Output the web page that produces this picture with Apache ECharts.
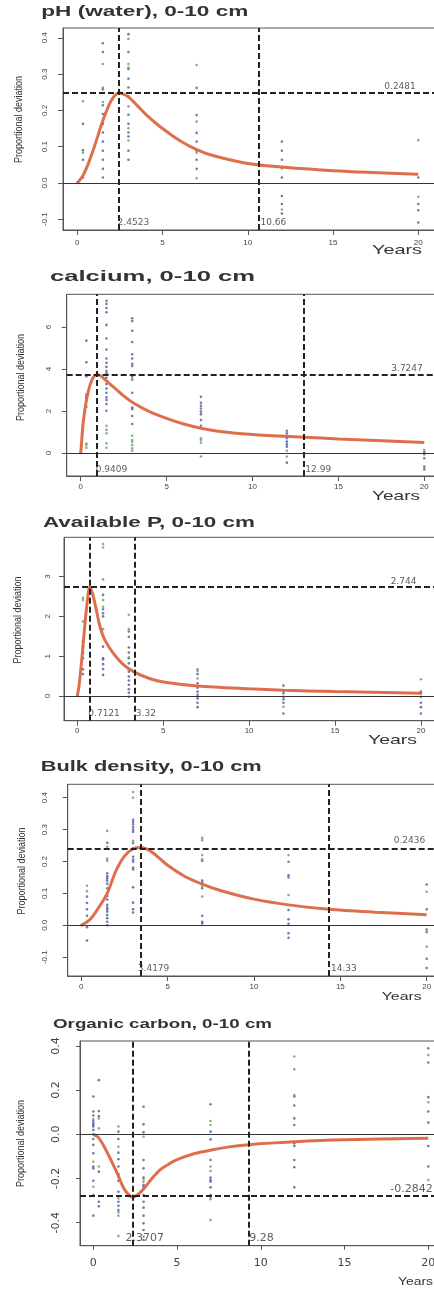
<!DOCTYPE html>
<html>
<head>
<meta charset="utf-8">
<script src="https://cdn.jsdelivr.net/npm/echarts@6.0.0/dist/echarts.min.js"></script>
<style>
html,body{margin:0;padding:0;background:#ffffff;}
#chart{width:434px;height:1290px;}
</style>
</head>
<body>
<div id="chart"></div>
<script>
// ================= DATA =================
const titles = ['pH (water), 0-10 cm', 'calcium, 0-10 cm', 'Available P, 0-10 cm', 'Bulk density, 0-10 cm', 'Organic carbon, 0-10 cm'];
const yAxisTitle = 'Proportional deviation';
const xAxisTitle = 'Years';
const xTickValues = [0, 5, 10, 15, 20];

// pH (water)
const phYTicks = [-0.1, 0, 0.1, 0.2, 0.3, 0.4];
const phBlue = [[0,0],[0.33,0.163],[0.33,0.090],[0.33,0.064],[0.33,0.015],
  [1.5,0.385],[1.5,0.361],[1.5,0.258],[1.5,0.214],[1.5,0.19],[1.5,0.163],[1.5,0.139],[1.5,0.114],[1.5,0.089],[1.5,0.064],[1.5,0.039],[1.5,0.015],
  [3,0.41],[3,0.361],[3,0.314],[3,0.287],[3,0.263],[3,0.239],[3,0.188],[3,0.163],[3,0.139],[3,0.128],[3,0.089],[3,0.064],
  [7,0.262],[7,0.187],[7,0.138],[7,0.114],[7,0.089],[7,0.064],[7,0.039],
  [12,0.114],[12,0.089],[12,0.064],[12,0.015],[12,-0.036],[12,-0.058],[12,-0.084],
  [20,0.015],[20,-0.058],[20,-0.075],[20,-0.109]];
const phGreen = [[0.33,0.225],[0.33,0.083],[1.5,0.328],[1.5,0.263],[1.5,0.223],[3,0.397],[3,0.328],[3,0.318],[3,0.211],[3,0.151],[3,0.117],
  [7,0.325],[7,0.169],[7,0.083],[7,0.013],[12,0.04],[12,-0.073],[20,0.118],[20,-0.038]];
const phCurve = [[0,0],[0.3,0.018],[0.6,0.048],[1,0.1],[1.5,0.172],[2,0.228],[2.4523,0.2481],[3,0.237],[3.5,0.214],[4,0.19],[5,0.15],[6,0.117],[7,0.092],[8,0.075],[10,0.054],[12,0.044],[15,0.034],[20,0.024]];
const phVLines = [2.4523, 10.66];
const phHLine = 0.2481;

// calcium
const caYTicks = [0, 2, 4, 6];
const caBlue = [[0,0],[0.33,5.35],[0.33,4.32],[0.33,3.65],[0.33,2.78],[0.33,2.68],[0.33,2.6],[0.33,2.2],
  [1.5,7.25],[1.5,7.1],[1.5,6.9],[1.5,6.7],[1.5,6.1],[1.5,5.45],[1.5,4.93],[1.5,4.5],[1.5,4.3],[1.5,4.1],[1.5,3.9],[1.5,3.8],[1.5,3.58],[1.5,3.28],[1.5,3.07],[1.5,2.87],[1.5,2.65],[1.5,2.52],[1.5,2.33],[1.5,2.01],
  [3,6.42],[3,6.28],[3,5.82],[3,5.28],[3,4.7],[3,4.5],[3,4.25],[3,4.14],[3,3.63],[3,3.5],[3,2.87],[3,2.17],[3,2.09],[3,1.76],[3,1.38],
  [7,2.68],[7,2.39],[7,2.25],[7,2.12],[7,1.97],[7,1.84],[7,1.57],[7,1.3],
  [12,1.06],[12,0.94],[12,0.82],[12,0.7],[12,0.54],[12,0.41],[12,0.3],[12,-0.46],
  [20,0.03],[20,-0.06],[20,-0.25],[20,-0.65],[20,-0.78]];
const caGreen = [[0.33,0.45],[0.33,0.38],[0.33,0.25],[1.5,1.3],[1.5,1.1],[1.5,0.94],[1.5,0.46],[1.5,0.25],
  [3,0.82],[3,0.62],[3,0.54],[3,0.38],[3,0.22],[3,0.11],[7,0.7],[7,0.62],[7,0.49],[7,-0.17],[12,0.11],[12,-0.17],[20,0.14]];
const caCurve = [[0,0],[0.05,0.5],[0.12,1.25],[0.25,2.1],[0.38,2.7],[0.54,3.23],[0.73,3.6],[0.9409,3.7247],[1.2,3.65],[1.5,3.43],[2,3.08],[2.5,2.72],[3,2.42],[4,1.97],[5,1.65],[6,1.38],[7,1.18],[8,1.04],[10,0.88],[12.99,0.75],[15,0.67],[20,0.5]];
const caVLines = [0.9409, 12.99];
const caHLine = 3.7247;

// Available P
const pYTicks = [0, 1, 2, 3];
const pBlue = [[0,0],[0.33,1.37],[0.33,1.24],[0.33,1.08],[0.33,0.95],[0.33,0.67],[0.33,0.55],
  [1.5,2.54],[1.5,2.18],[1.5,2.08],[1.5,2.0],[1.5,1.24],[1.5,0.95],[1.5,0.92],[1.5,0.8],[1.5,0.68],[1.5,0.53],
  [3,1.62],[3,1.49],[3,1.22],[3,1.09],[3,0.95],[3,0.82],[3,0.61],[3,0.49],[3,0.39],[3,0.28],[3,0.17],[3,0.08],[3,-0.02],
  [7,0.55],[7,0.32],[7,0.21],[7,0.11],[7,0.03],[7,-0.06],[7,-0.17],[7,-0.28],
  [12,0.26],[12,0.13],[12,0.07],[12,-0.02],[12,-0.08],[12,-0.17],[12,-0.44],
  [20,0.11],[20,0.07],[20,-0.02],[20,-0.17],[20,-0.28],[20,-0.44]];
const pGreen = [[0.33,2.47],[0.33,2.41],[0.33,1.87],[1.5,3.82],[1.5,3.73],[1.5,2.93],[1.5,2.41],[1.5,2.24],[1.5,1.68],
  [3,2.04],[3,1.68],[3,0.97],[3,0.65],[7,0.67],[7,0.63],[7,0.44],[12,-0.27],[20,0.42]];
const pCurve = [[0,0],[0.1,0.25],[0.2,0.65],[0.3,1.1],[0.4,1.6],[0.5,2.05],[0.6,2.45],[0.7121,2.744],[0.8,2.68],[0.93,2.5],[1.09,2.2],[1.32,1.74],[1.6,1.41],[2.1,1.07],[2.7,0.78],[3.32,0.6],[4.2,0.44],[5,0.35],[7,0.25],[10,0.18],[12,0.145],[15,0.11],[20,0.07]];
const pVLines = [0.7121, 3.32];
const pHLine = 2.744;

// Bulk density
const bdYTicks = [-0.1, 0, 0.1, 0.2, 0.3, 0.4];
const bdBlue = [[0,0],[0.33,0.09],[0.33,0.07],[0.33,0.05],[0.33,0.03],[0.33,0.01],[0.33,-0.006],[0.33,-0.048],
  [1.5,0.259],[1.5,0.163],[1.5,0.154],[1.5,0.147],[1.5,0.14],[1.5,0.13],[1.5,0.116],[1.5,0.092],[1.5,0.081],[1.5,0.064],[1.5,0.056],[1.5,0.05],[1.5,0.043],[1.5,0.032],[1.5,0.022],[1.5,0.011],[1.5,0.0],
  [3,0.331],[3,0.324],[3,0.317],[3,0.308],[3,0.3],[3,0.293],[3,0.258],[3,0.241],[3,0.215],[3,0.206],[3,0.199],[3,0.181],[3,0.175],[3,0.119],[3,0.071],[3,0.05],[3,0.04],
  [7,0.202],[7,0.14],[7,0.133],[7,0.116],[7,0.03],[7,0.011],[7,0.006],
  [12,0.199],[12,0.157],[12,0.15],[12,0.048],[12,0.019],[12,0.005],[12,-0.025],[12,-0.039],
  [20,0.128],[20,0.05],[20,-0.013],[20,-0.021],[20,-0.105],[20,-0.134]];
const bdGreen = [[0.33,0.124],[0.33,0.107],[1.5,0.296],[1.5,0.246],[1.5,0.209],[1.5,0.202],[3,0.418],[3,0.4],[3,0.265],
  [7,0.274],[7,0.267],[7,0.22],[7,0.207],[7,0.123],[7,0.09],[12,0.22],[12,0.095],[20,0.105],[20,-0.067]];
const bdCurve = [[0,0],[0.5,0.018],[1,0.055],[1.5,0.1],[2,0.17],[2.5,0.217],[3,0.24],[3.4179,0.2436],[4,0.233],[5,0.188],[6,0.153],[7,0.129],[8,0.11],[10,0.082],[12,0.064],[14.33,0.05],[17,0.041],[20,0.033]];
const bdVLines = [3.4179, 14.33];
const bdHLine = 0.2436;

// Organic carbon
const ocYTicks = [-0.4, -0.2, 0, 0.2, 0.4];
const ocBlue = [[0,0.171],[0,0.103],[0,0.085],[0,0.06],[0,0.05],[0,0.042],[0,0.035],[0,0.02],[0,0],[0,-0.021],[0,-0.048],[0,-0.086],[0,-0.146],[0,-0.154],[0,-0.21],[0,-0.275],[0,-0.368],
  [0.33,0.245],[0.33,0.105],[0.33,0.083],[0.33,-0.169],[0.33,-0.305],[0.33,-0.326],
  [1.5,0.012],[1.5,-0.021],[1.5,-0.083],[1.5,-0.113],[1.5,-0.146],[1.5,-0.18],[1.5,-0.21],[1.5,-0.26],[1.5,-0.305],[1.5,-0.323],[1.5,-0.343],
  [3,0.125],[3,0.045],[3,0.009],[3,-0.116],[3,-0.154],[3,-0.196],[3,-0.229],[3,-0.237],[3,-0.245],[3,-0.275],[3,-0.305],[3,-0.332],[3,-0.368],[3,-0.403],[3,-0.433],[3,-0.478],
  [7,0.136],[7,0.012],[7,-0.023],[7,-0.116],[7,-0.196],[7,-0.207],[7,-0.214],[7,-0.24],[7,-0.275],
  [12,0.171],[12,0.13],[12,0.072],[12,0.042],[12,-0.041],[12,-0.053],[12,-0.116],[12,-0.149],[12,-0.24],
  [20,0.389],[20,0.325],[20,0.168],[20,0.103],[20,0.053],[20,-0.053],[20,-0.146]];
const ocGreen = [[0,0.069],[0,-0.124],[0,-0.237],[0.33,0.072],[0.33,0.027],[0.33,-0.146],[1.5,0.035],[1.5,-0.056],[1.5,-0.29],[1.5,-0.353],[1.5,-0.368],[1.5,-0.46],
  [3,-0.011],[3,-0.202],[3,-0.214],[3,-0.463],[7,0.06],[7,0.042],[7,-0.146],[7,-0.166],[7,-0.287],[7,-0.294],[7,-0.388],
  [12,0.352],[12,0.294],[12,0.178],[20,0.359],[20,0.145],[20,-0.207]];
const ocCurve = [[0,0],[0.3,-0.014],[0.7,-0.063],[1.1,-0.124],[1.47,-0.184],[1.77,-0.237],[2.07,-0.27],[2.3707,-0.2842],[2.67,-0.272],[3,-0.248],[3.5,-0.2],[4,-0.16],[4.5,-0.135],[5,-0.115],[6,-0.088],[7,-0.072],[8,-0.058],[9.28,-0.047],[12,-0.034],[15,-0.025],[20,-0.018]];
const ocVLines = [2.3707, 9.28];
const ocHLine = -0.2842;

// ================= LAYOUT / STYLE =================
const panels = [
  {blue: phBlue, green: phGreen, curve: phCurve, yTicks: phYTicks, vl: phVLines, hl: phHLine},
  {blue: caBlue, green: caGreen, curve: caCurve, yTicks: caYTicks, vl: caVLines, hl: caHLine},
  {blue: pBlue, green: pGreen, curve: pCurve, yTicks: pYTicks, vl: pVLines, hl: pHLine},
  {blue: bdBlue, green: bdGreen, curve: bdCurve, yTicks: bdYTicks, vl: bdVLines, hl: bdHLine},
  {blue: ocBlue, green: ocGreen, curve: ocCurve, yTicks: ocYTicks, vl: ocVLines, hl: ocHLine}
];
const layout = [
  {x0:77.3, kx:17.05, bl:63, bt:28, bb:230, y0:183, ky:363, dec:1, fs:8, ff:'"Liberation Sans"', ylm:14, xlm:9, tick:5,
   title:{x:41.3, y:12, w:207, fs:15}, yname:{x:18.5, y:119.5}, years:{x:372, y:250, w:50, fs:13},
   lfs:9, vOff:[[-2,-7],[1,-7]], hOff:[-2,-6]},
  {x0:80.7, kx:17.18, bl:66.7, bt:294.3, bb:476, y0:453, ky:21, dec:0, fs:8, ff:'"Liberation Sans"', ylm:14, xlm:6.7, tick:5,
   title:{x:50, y:277, w:205, fs:15}, yname:{x:21, y:377.5}, years:{x:372, y:496.7, w:48, fs:13},
   lfs:9, vOff:[[-1.7,-6.7],[1,-6.7]], hOff:[-1,-5.7]},
  {x0:77.3, kx:17.18, bl:64, bt:537.3, bb:720.7, y0:696, ky:39.8, dec:0, fs:8, ff:'"Liberation Sans"', ylm:12, xlm:6, tick:5,
   title:{x:43, y:523.3, w:212, fs:15}, yname:{x:18, y:620}, years:{x:368, y:740.7, w:49, fs:13},
   lfs:9, vOff:[[-1.7,-7.4],[1,-7.4]], hOff:[-4,-5.4]},
  {x0:81.3, kx:17.27, bl:67.7, bt:784.3, bb:976, y0:925.3, ky:319, dec:1, fs:8, ff:'"Liberation Sans"', ylm:19, xlm:6.7, tick:5,
   title:{x:40.7, y:767.3, w:221, fs:14}, yname:{x:22, y:871}, years:{x:381.7, y:997.3, w:40, fs:11},
   lfs:9, vOff:[[-3,-7.3],[1.7,-7.3]], hOff:[-1,-7]},
  {x0:93.3, kx:16.75, bl:80, bt:1041, bb:1245.7, y0:1134.3, ky:221, dec:1, fs:11, ff:'"DejaVu Sans"', ylm:18, xlm:12, tick:4,
   title:{x:53, y:1024.3, w:219, fs:13}, yname:{x:20.5, y:1143.5}, years:{x:398, y:1281.7, w:35, fs:10.5},
   lfs:11, vOff:[[-8,-8],[0,-8]], hOff:[5,-8.4]}
];
const BOX_RIGHT = 440;
const COL_BLUE = '#4b5a9c', COL_GREEN = '#5fa35f', COL_CURVE = '#dc6743';
const COL_AX = '#555', COL_TXT = '#333';

const mctx = document.createElement('canvas').getContext('2d');
function measure(t, font) { mctx.font = font; return mctx.measureText(t).width; }

const grids = [], xAxes = [], yAxes = [], series = [], graphics = [];
panels.forEach((p, i) => {
  const L = layout[i];
  const xmin = (L.bl - L.x0) / L.kx, xmax = (BOX_RIGHT - L.x0) / L.kx;
  const ymax = (L.y0 - L.bt) / L.ky, ymin = (L.y0 - L.bb) / L.ky;
  grids.push({left: L.bl, top: L.bt, width: BOX_RIGHT - L.bl, height: L.bb - L.bt,
    show: true, borderColor: COL_AX, borderWidth: 1, backgroundColor: 'transparent',
    containLabel: false, outerBoundsMode: 'none'});
  const lblStyle = {fontSize: L.fs, fontFamily: L.ff, color: '#444'};
  xAxes.push({type: 'value', gridIndex: i, min: xmin, max: xmax,
    axisLine: {show: true, onZero: false, lineStyle: {color: COL_AX, width: 1}},
    axisTick: {show: true, length: L.tick, customValues: xTickValues, lineStyle: {color: COL_AX}},
    axisLabel: Object.assign({show: true, margin: L.xlm, customValues: xTickValues,
      formatter: v => String(Math.round(v))}, lblStyle),
    splitLine: {show: false}});
  yAxes.push({type: 'value', gridIndex: i, min: ymin, max: ymax,
    axisLine: {show: true, onZero: false, lineStyle: {color: COL_AX, width: 1}},
    axisTick: {show: true, length: L.tick, customValues: p.yTicks, lineStyle: {color: COL_AX}},
    axisLabel: Object.assign({show: true, rotate: 90, margin: L.ylm, customValues: p.yTicks,
      formatter: v => Number(v).toFixed(L.dec)}, lblStyle),
    splitLine: {show: false}});

  series.push({type: 'scatter', xAxisIndex: i, yAxisIndex: i, data: p.blue, symbol: 'circle', symbolSize: 2.6,
    itemStyle: {color: COL_BLUE}, z: 2, silent: true,
    markLine: {silent: true, symbol: ['none', 'none'], label: {show: false}, animation: false,
      lineStyle: {type: 'solid', color: '#333', width: 1}, data: [{yAxis: 0}]}});
  series.push({type: 'scatter', xAxisIndex: i, yAxisIndex: i, data: p.green, symbol: 'circle', symbolSize: 2.6,
    itemStyle: {color: COL_GREEN}, z: 2, silent: true});
  series.push({type: 'line', xAxisIndex: i, yAxisIndex: i, data: p.curve, smooth: 0.3, showSymbol: false,
    lineStyle: {color: COL_CURVE, width: 3, opacity: 0.95}, z: 3, silent: true});

  const lab = {fontSize: L.lfs, fontFamily: '"DejaVu Sans"', color: COL_TXT};
  const labelData = p.vl.map((v, k) => ({name: String(v), value: [v, ymin],
    label: Object.assign({show: true, position: 'right', distance: 0, offset: L.vOff[k], formatter: '{b}'}, lab)}));
  labelData.push({name: String(p.hl), value: [20, p.hl],
    label: Object.assign({show: true, position: 'left', distance: 0, offset: L.hOff, formatter: '{b}'}, lab)});
  series.push({type: 'scatter', xAxisIndex: i, yAxisIndex: i, data: labelData, symbolSize: 1,
    itemStyle: {color: 'rgba(0,0,0,0)'}, z: 5, silent: true,
    markLine: {silent: true, symbol: ['none', 'none'], label: {show: false}, animation: false,
      lineStyle: {type: [6, 3], color: '#222', width: 2},
      data: [{xAxis: p.vl[0]}, {xAxis: p.vl[1]}, {yAxis: p.hl}]}});

  const tFont = 'bold ' + L.title.fs + 'px "Liberation Sans"';
  graphics.push({type: 'text', x: L.title.x, y: L.title.y, scaleX: L.title.w / measure(titles[i], tFont),
    style: {text: titles[i], font: tFont, fill: COL_TXT, textAlign: 'left', align: 'left',
      textVerticalAlign: 'middle', verticalAlign: 'middle'}});
  const yFont = '9px "Liberation Sans"';
  graphics.push({type: 'text', x: L.yname.x, y: L.yname.y, rotation: Math.PI / 2, scaleY: 1.3,
    style: {text: yAxisTitle, font: yFont, fill: COL_TXT, textAlign: 'center', align: 'center',
      textVerticalAlign: 'middle', verticalAlign: 'middle'}});
  const yrFont = L.years.fs + 'px "Liberation Sans"';
  graphics.push({type: 'text', x: L.years.x, y: L.years.y, scaleX: L.years.w / measure(xAxisTitle, yrFont),
    style: {text: xAxisTitle, font: yrFont, fill: COL_TXT, textAlign: 'left', align: 'left',
      textVerticalAlign: 'middle', verticalAlign: 'middle'}});
});

const chart = echarts.init(document.getElementById('chart'), null, {renderer: 'canvas'});
chart.setOption({
  animation: false,
  backgroundColor: '#ffffff',
  grid: grids, xAxis: xAxes, yAxis: yAxes, series: series, graphic: graphics
});
</script>
</body>
</html>
